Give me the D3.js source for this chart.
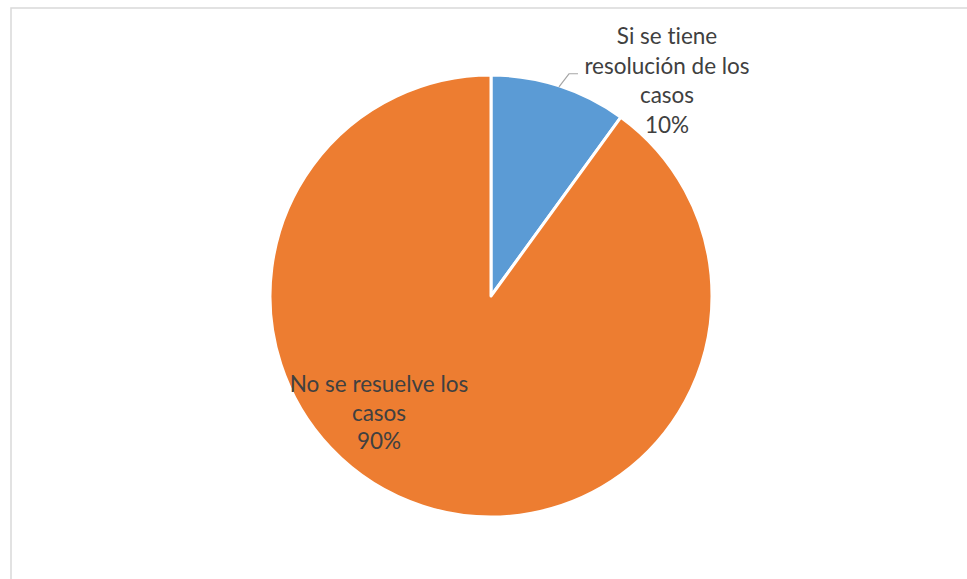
<!DOCTYPE html>
<html>
<head>
<meta charset="utf-8">
<script src="https://cdn.jsdelivr.net/npm/d3@7"></script>
<style>
  html, body { margin: 0; padding: 0; background: #fff; }
  svg { display: block; }
  text { font-variant-ligatures: none; font-feature-settings: "liga" 0, "clig" 0; }
</style>
</head>
<body>
<script>
// chart data
const categories = ["Si se tiene resolución de los casos", "No se resuelve los casos"];
const values = [10, 90];
const colours = ["#5B9BD5", "#ED7D31"];
const labelLines = [
    ["Si se tiene", "resolución de los", "casos", "10%"],
    ["No se resuelve los", "casos", "90%"]
];

const width = 967,
    height = 579,
    cx = 491,
    cy = 296,
    radius = 221;

const svg = d3.select("body").append("svg")
    .attr("width", width)
    .attr("height", height);

// chart area border (runs off the right and bottom)
svg.append("rect")
    .attr("x", 11)
    .attr("y", 8)
    .attr("width", 1000)
    .attr("height", 620)
    .attr("fill", "none")
    .attr("stroke", "#d9d9d9")
    .attr("stroke-width", 1.5);

const pie = d3.pie().sort(null).value(d => d);
const arcs = pie(values);
const arc = d3.arc().innerRadius(0).outerRadius(radius);

const g = svg.append("g")
    .attr("transform", `translate(${cx},${cy})`);

g.selectAll("path")
    .data(arcs)
    .enter()
    .append("path")
    .attr("d", arc)
    .attr("fill", (d, i) => colours[i])
    .attr("stroke", "#fff")
    .attr("stroke-width", 3)
    .attr("stroke-linejoin", "round");

// label positions (first baseline), relative to centre
const labelPos = [
    { x: 176, y: -252, lh: 29.5 },
    { x: -112, y: 96, lh: 28.5 }
];

g.selectAll("text.label")
    .data(arcs)
    .enter()
    .append("text")
    .attr("class", "label")
    .attr("text-anchor", "middle")
    .attr("font-family", "Lato, 'Open Sans', sans-serif")
    .attr("font-size", 22.5)
    .attr("fill", "#404040")
    .each(function (d, i) {
        const t = d3.select(this);
        labelLines[i].forEach((line, j) => {
            t.append("tspan")
                .attr("x", labelPos[i].x)
                .attr("y", labelPos[i].y + j * labelPos[i].lh)
                .text(line);
        });
    });

// leader line for the small slice
const mid = (arcs[0].startAngle + arcs[0].endAngle) / 2;
const p0 = [Math.sin(mid) * (radius - 1), -Math.cos(mid) * (radius - 1)];
g.append("polyline")
    .attr("points", [p0, [p0[0] + 10, p0[1] - 13], [p0[0] + 19, p0[1] - 13]].map(p => p.join(",")).join(" "))
    .attr("fill", "none")
    .attr("stroke", "#a6a6a6")
    .attr("stroke-width", 1.2);
</script>
</body>
</html>
